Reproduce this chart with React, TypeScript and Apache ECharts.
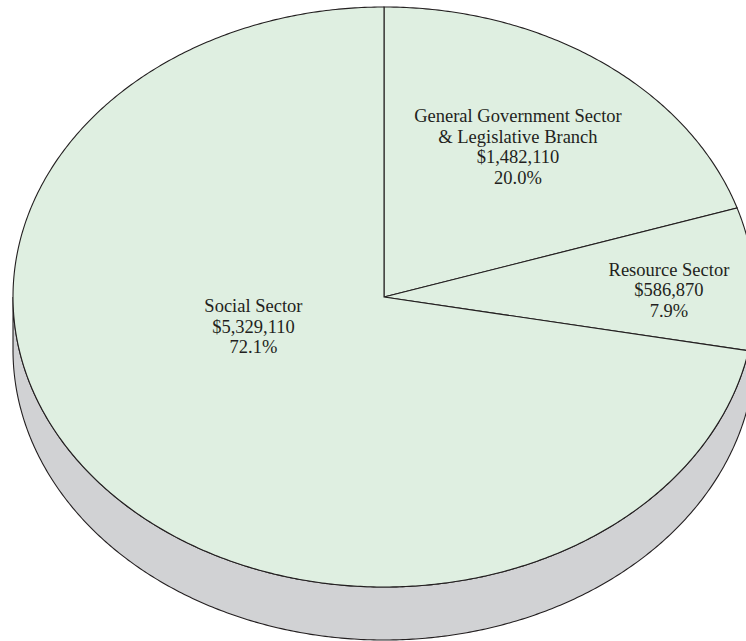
import React, { useEffect, useRef } from 'react';
import * as echarts from 'echarts';

// ---- data ----
const categories = ['General Government Sector\n& Legislative Branch', 'Resource Sector', 'Social Sector'];
const amounts = [1482110, 586870, 5329110];
const percentLabels = ['20.0%', '7.9%', '72.1%'];

// ---- layout (not data) ----
const CX = 384;
const CY = 297;
const RX = 371;
const RY = 290;
const DEPTH = 53;
// label centre offsets, as fractions of the radii
const labelOffsets = [
  [0.361, -0.517],
  [0.768, -0.024],
  [-0.352, 0.103],
];
const TOP_FILL = '#dfefe1';
const SIDE_FILL = '#d1d2d4';
const EDGE = '#231f20';

const total = amounts.reduce((a, b) => a + b, 0);
const starts: number[] = [];
{
  let acc = 0;
  for (const v of amounts) {
    starts.push((acc / total) * 360);
    acc += v;
  }
}

function pt(deg: number, dy = 0): number[] {
  const r = (deg * Math.PI) / 180;
  return [CX + RX * Math.sin(r), CY - RY * Math.cos(r) + dy];
}

function arcPoints(a0: number, a1: number, dy = 0): number[][] {
  const n = Math.max(2, Math.ceil((a1 - a0) / 0.5));
  const pts: number[][] = [];
  for (let i = 0; i <= n; i++) pts.push(pt(a0 + ((a1 - a0) * i) / n, dy));
  return pts;
}

function fmtMoney(v: number): string {
  return '$' + v.toString().replace(/\B(?=(\d{3})+(?!\d))/g, ',');
}

export default function App() {
  const ref = useRef<HTMLDivElement>(null);
  useEffect(() => {
    if (!ref.current) return;
    const chart = echarts.init(ref.current, undefined, { renderer: 'svg' });
    const data = amounts.map((v, i) => ({ value: v, name: categories[i] }));
    chart.setOption({
      animation: false,
      backgroundColor: '#ffffff',
      series: [
        {
          type: 'custom',
          coordinateSystem: 'none',
          silent: true,
          z: 1,
          data,
          renderItem: (params: any, api: any) => {
            const i = params.dataIndex;
            const a0 = starts[i];
            const a1 = a0 + (api.value(0) / total) * 360;
            const s = Math.max(a0, 90);
            const e = Math.min(a1, 270);
            if (e <= s) return { type: 'group', children: [] };
            const top = arcPoints(s, e, 0);
            const bottom = arcPoints(s, e, DEPTH).reverse();
            return {
              type: 'polygon',
              shape: { points: top.concat(bottom) },
              style: { fill: SIDE_FILL, stroke: EDGE, lineWidth: 1.1 },
            };
          },
        },
        {
          type: 'custom',
          coordinateSystem: 'none',
          silent: true,
          z: 2,
          data,
          renderItem: (params: any, api: any) => {
            const i = params.dataIndex;
            const v = api.value(0);
            const a0 = starts[i];
            const a1 = a0 + (v / total) * 360;
            const pts = [[CX, CY]].concat(arcPoints(a0, a1, 0));
            const off = labelOffsets[i];
            return {
              type: 'group',
              children: [
                {
                  type: 'polygon',
                  shape: { points: pts },
                  style: { fill: TOP_FILL, stroke: EDGE, lineWidth: 1.1 },
                },
                {
                  type: 'text',
                  z2: 10,
                  x: CX + off[0] * RX,
                  y: CY + off[1] * RY,
                  style: {
                    text: categories[i] + '\n' + fmtMoney(v) + '\n' + percentLabels[i],
                    font: '18.5px "Liberation Serif", "Times New Roman", serif',
                    fill: EDGE,
                    align: 'center',
                    verticalAlign: 'middle',
                    lineHeight: 20.5,
                  },
                },
              ],
            };
          },
        },
      ],
    });
    return () => chart.dispose();
  }, []);
  return (
    <div
      ref={ref}
      style={{ position: 'absolute', left: 0, top: 0, width: 746, height: 641, overflow: 'hidden' }}
    />
  );
}
